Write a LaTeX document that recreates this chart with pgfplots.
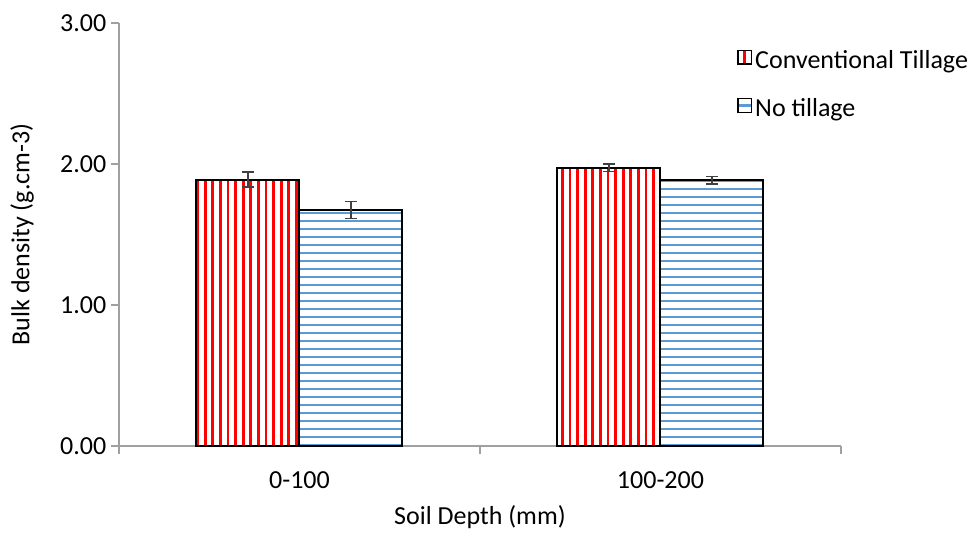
\documentclass[border=0pt]{standalone}
\usepackage{pgfplots}
\pgfplotsset{compat=1.18}
\usepackage{fontspec}
\setmainfont{Carlito}
\usetikzlibrary{patterns.meta}
\definecolor{ctred}{HTML}{FF0000}
\definecolor{ntblue}{HTML}{5B9BD5}
\definecolor{axgray}{HTML}{A0A0A0}
\definecolor{errgray}{HTML}{404040}
\begin{document}
\begin{tikzpicture}
\path[use as bounding box] (-89.25pt,-65.25pt) rectangle (642.75pt,334.5pt);
\begin{axis}[
  at={(0,0)}, anchor=south west,
  scale only axis, width=541.5pt, height=317.25pt,
  xmin=-0.5, xmax=1.5, ymin=0, ymax=3,
  axis x line*=bottom, axis y line*=left,
  axis line style={axgray, line width=0.9pt},
  tick style={axgray, line width=0.9pt},
  tick align=outside, major tick length=6pt,
  xtick={-0.5,0.5,1.5}, xticklabels={},
  extra x ticks={0,1}, extra x tick labels={0-100,100-200},
  extra x tick style={major tick length=0pt, xticklabel style={anchor=center, yshift=-25.5pt}},
  ytick={0,1,2,3},
  yticklabel style={/pgf/number format/.cd, fixed, fixed zerofill, precision=2, assume math mode=true},
  font=\fontsize{19.5}{23}\selectfont,
  ticklabel style={font=\fontsize{19.5}{23}\selectfont, text=black},
  every axis x label/.style={at={(axis description cs:0.5,-0.1678)}, anchor=center, font=\fontsize{19.5}{23}\selectfont},
  every axis y label/.style={at={(axis description cs:-0.1343,0.5)}, anchor=center, rotate=90, font=\fontsize{19.5}{23}\selectfont},
  xlabel={Soil Depth (mm)},
  ylabel={Bulk density (g.cm-3)},
  ybar=0pt, bar width=77.25pt,
  legend style={at={(0.855,0.943)}, anchor=north west, draw=none, fill=none,
    font=\fontsize{19.5}{23}\selectfont, row sep=17pt, inner sep=0pt,
    /tikz/every even column/.append style={column sep=6pt}},
  legend cell align=left,
  error bars/y dir=both, error bars/y explicit,
  error bars/error bar style={errgray, line width=1.2pt},
  error bars/error mark options={rotate=90, mark size=4.3pt, line width=1.2pt, errgray},
]
\addlegendimage{legend image code/.code={
    \draw[black, line width=0.9pt, fill=white] (0pt,-3pt) rectangle (10pt,7pt);
    \draw[ctred, line width=2pt] (5pt,-3pt) -- (5pt,7pt);
    \draw[black, line width=0.9pt] (0pt,-3pt) rectangle (10pt,7pt);}}
\addlegendentry{Conventional Tillage}
\addlegendimage{legend image code/.code={
    \draw[black, line width=0.9pt, fill=white] (0pt,-3pt) rectangle (10pt,7pt);
    \draw[ntblue, line width=2pt] (0pt,2pt) -- (10pt,2pt);
    \draw[black, line width=0.9pt] (0pt,-3pt) rectangle (10pt,7pt);}}
\addlegendentry{No tillage}
\addplot[draw=black, line width=1.5pt,
  pattern={Lines[angle=90, distance=5.7pt, line width=2pt]}, pattern color=ctred]
  coordinates {(0,1.889) +- (0,0.053) (1,1.972) +- (0,0.026)};
\addplot[draw=black, line width=1.5pt,
  pattern={Lines[angle=0, distance=6pt, line width=1.3pt]}, pattern color=ntblue]
  coordinates {(0,1.673) +- (0,0.06) (1,1.886) +- (0,0.026)};
\end{axis}
\end{tikzpicture}
\end{document}
